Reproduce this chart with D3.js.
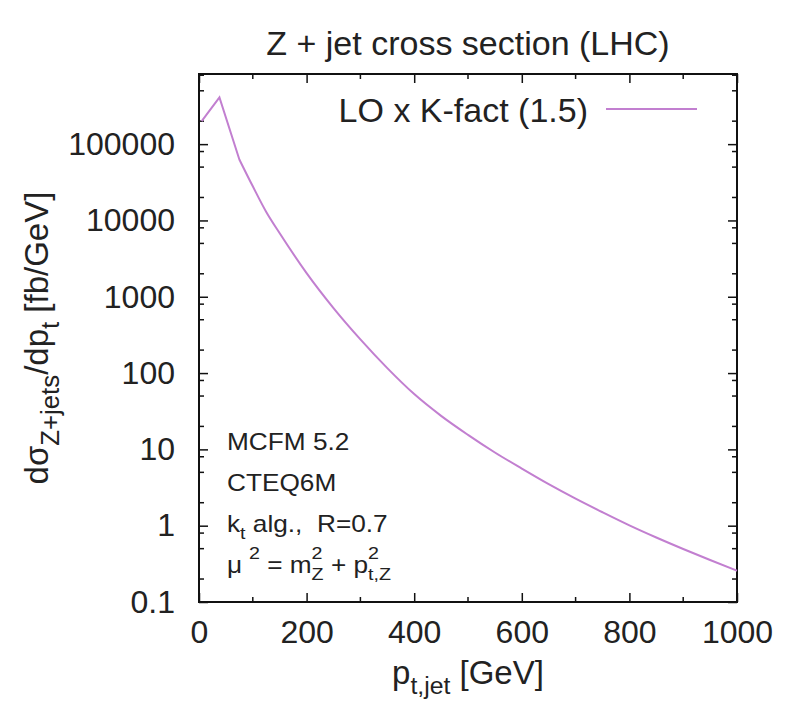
<!DOCTYPE html>
<html>
<head>
<meta charset="utf-8">
<script src="https://cdn.jsdelivr.net/npm/d3@7"></script>
<style>
  body { margin: 0; background: #fff; }
  text { font-family: "Liberation Sans", Arial, Helvetica, sans-serif; fill: #222; white-space: pre; }
</style>
</head>
<body>
<div id="chart"></div>
<script>
// values (pT in GeV, dsigma/dpT in fb/GeV)
var ptValues = [5, 38, 75, 100, 125, 150, 200, 250, 300, 350, 400, 450, 500, 550, 600, 650, 700, 750, 800, 850, 900, 950, 1000];
var xsValues = [200000, 410000, 63000, 28000, 12900, 6800, 2040, 710, 276, 116, 53, 27.5, 15.5, 9.1, 5.6, 3.5, 2.26, 1.5, 1.01, 0.70, 0.495, 0.355, 0.257];

var xTicks = [0, 200, 400, 600, 800, 1000];
var xMinor = [100, 300, 500, 700, 900];
var yTicks = [0.1, 1, 10, 100, 1000, 10000, 100000];
var yTickLabels = ["0.1", "1", "10", "100", "1000", "10000", "100000"];
var yMinorFactors = [2, 5, 8];

var title = "Z + jet cross section (LHC)";
var legendLabel = "LO x K-fact (1.5)";
var lineColor = "#c27fd0";

var W = 791, H = 707;
var margin = {top: 74, right: 54, bottom: 105, left: 199};
var width = W - margin.left - margin.right,
    height = H - margin.top - margin.bottom;

var svg = d3.select("#chart").append("svg")
    .attr("width", W)
    .attr("height", H);

var g = svg.append("g")
    .attr("transform", "translate(" + margin.left + "," + margin.top + ")");

var x = d3.scaleLinear().domain([0, 1000]).range([0, width]);
var y = d3.scaleLog().domain([0.1, 830000]).range([height, 0]);

// rich text helper: parts placed one after another, optional stacking (sub+sup)
function rich(sel, x0, y0, parts, size) {
  var cx = x0, prevStart = x0;
  parts.forEach(function(p) {
    var fs = size * (p.s || 1);
    var px = (p.stack ? prevStart : cx) + (p.dx || 0);
    var t = sel.append("text")
      .attr("x", px)
      .attr("y", y0 + (p.dy || 0) * size)
      .attr("font-size", fs)
      .text(p.t);
    var w = t.node().getComputedTextLength();
    if (p.stack) { cx = Math.max(cx, px + w); }
    else { prevStart = px; cx = px + w; }
  });
  return cx - x0;
}

// axes (ticks inward, mirrored)
var xAxis = g.append("g")
  .attr("transform", "translate(0," + height + ")")
  .call(d3.axisBottom(x).tickValues(xTicks).tickSizeInner(-9).tickSizeOuter(0).tickPadding(18).tickFormat(d3.format("d")));
var xTop = g.append("g")
  .call(d3.axisTop(x).tickValues(xTicks).tickSizeInner(-9).tickSizeOuter(0).tickFormat(""));
var yAxis = g.append("g")
  .call(d3.axisLeft(y).tickValues(yTicks).tickSizeInner(-9).tickSizeOuter(0).tickPadding(24)
    .tickFormat(function(d, i) { return yTickLabels[i]; }));
var yRight = g.append("g")
  .attr("transform", "translate(" + width + ",0)")
  .call(d3.axisRight(y).tickValues(yTicks).tickSizeInner(-9).tickSizeOuter(0).tickFormat(""));

[xAxis, xTop, yAxis, yRight].forEach(function(a) {
  a.select(".domain").remove();
  a.selectAll("line").attr("stroke", "#111").attr("stroke-width", 1.5);
  a.selectAll("text").attr("font-size", 32).attr("fill", "#222")
    .attr("font-family", "Liberation Sans, Arial, sans-serif");
});

// minor ticks
var yMinor = [];
yTicks.forEach(function(d) {
  yMinorFactors.forEach(function(f) { yMinor.push(d * f); });
});
yMinor = yMinor.filter(function(v) { return v < 830000; });

g.append("g").selectAll("line.ml").data(yMinor).enter().append("line")
  .attr("x1", 0).attr("x2", 5)
  .attr("y1", function(d) { return y(d); }).attr("y2", function(d) { return y(d); })
  .attr("stroke", "#111").attr("stroke-width", 1.5);
g.append("g").selectAll("line.mr").data(yMinor).enter().append("line")
  .attr("x1", width).attr("x2", width - 5)
  .attr("y1", function(d) { return y(d); }).attr("y2", function(d) { return y(d); })
  .attr("stroke", "#111").attr("stroke-width", 1.5);
g.append("g").selectAll("line.mb").data(xMinor).enter().append("line")
  .attr("x1", function(d) { return x(d); }).attr("x2", function(d) { return x(d); })
  .attr("y1", height).attr("y2", height - 5)
  .attr("stroke", "#111").attr("stroke-width", 1.5);
g.append("g").selectAll("line.mt").data(xMinor).enter().append("line")
  .attr("x1", function(d) { return x(d); }).attr("x2", function(d) { return x(d); })
  .attr("y1", 0).attr("y2", 5)
  .attr("stroke", "#111").attr("stroke-width", 1.5);

// frame
g.append("rect")
  .attr("width", width).attr("height", height)
  .attr("fill", "none").attr("stroke", "#111").attr("stroke-width", 2);

// curve: straight segments around the peak, smooth tail
var pts = ptValues.map(function(p, i) { return [p, xsValues[i]]; });
var peakPart = pts.slice(0, 3), tailPart = pts.slice(2);
var lineLin = d3.line()
  .x(function(d) { return x(d[0]); })
  .y(function(d) { return y(d[1]); });
var lineSmooth = d3.line()
  .curve(d3.curveMonotoneX)
  .x(function(d) { return x(d[0]); })
  .y(function(d) { return y(d[1]); });
g.append("path")
  .attr("fill", "none")
  .attr("stroke", lineColor)
  .attr("stroke-width", 2)
  .attr("stroke-linejoin", "miter")
  .attr("d", lineLin(peakPart) + lineSmooth(tailPart).replace(/^M/, "L"));

// legend
g.append("text")
  .attr("x", 588 - margin.left).attr("y", 122 - margin.top)
  .attr("text-anchor", "end")
  .attr("font-size", 34)
  .text(legendLabel);
g.append("line")
  .attr("x1", 606 - margin.left).attr("x2", 697 - margin.left)
  .attr("y1", 109 - margin.top).attr("y2", 109 - margin.top)
  .attr("stroke", lineColor).attr("stroke-width", 2);

// title
svg.append("text")
  .attr("x", margin.left + width / 2).attr("y", 55)
  .attr("text-anchor", "middle")
  .attr("font-size", 34)
  .text(title);

// x label
var xl = svg.append("g");
var xlw = rich(xl, 0, 684, [
  {t: "p"}, {t: "t,jet", s: 0.75, dy: 0.3}, {t: " [GeV]"}
], 33);
xl.attr("transform", "translate(" + (margin.left + width / 2 - xlw / 2) + ",0)");

// y label
var yl = svg.append("g");
var ylIn = yl.append("g");
var ylw = rich(ylIn, 0, 0, [
  {t: "d\u03c3"}, {t: "Z+jets", s: 0.78, dy: 0.32}, {t: "/dp"}, {t: "t", s: 0.78, dy: 0.32}, {t: " [fb/GeV]"}
], 33);
yl.attr("transform", "translate(48," + (margin.top + height / 2) + ") rotate(-90)");
ylIn.attr("transform", "translate(" + (-ylw / 2) + ",0)");

// annotations (slightly wide lettering, as in the original)
var ann = svg.append("g").attr("transform", "translate(227,0) scale(1.14,1)");
rich(ann, 0, 450, [{t: "MCFM 5.2"}], 23);
rich(ann, 0, 491, [{t: "CTEQ6M"}], 23);
rich(ann, 0, 532, [{t: "k"}, {t: "t", s: 0.75, dy: 0.3}, {t: " alg.,  R=0.7"}], 23);
rich(ann, 0, 573, [
  {t: "\u03bc"}, {t: "2", s: 0.75, dy: -0.6, dx: 6}, {t: " = m"},
  {t: "Z", s: 0.75, dy: 0.3}, {t: "2", s: 0.75, dy: -0.6, stack: true},
  {t: " + p"}, {t: "t,Z", s: 0.75, dy: 0.3}, {t: "2", s: 0.75, dy: -0.6, stack: true}
], 23);
</script>
</body>
</html>
